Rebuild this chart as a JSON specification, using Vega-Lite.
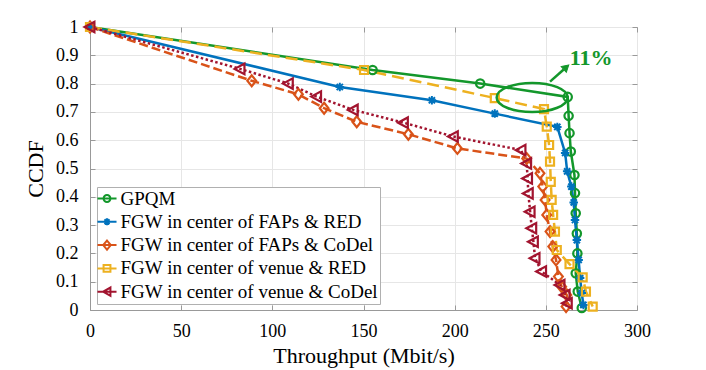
{
  "$schema": "https://vega.github.io/schema/vega-lite/v6.json",
  "width": 547,
  "height": 283,
  "autosize": "none",
  "padding": {"left": 90, "top": 27, "right": 69, "bottom": 60},
  "config": {
    "view": {"stroke": "#999999"},
    "font": "Liberation Serif, Times New Roman, serif",
    "axis": {"labelFont": "Liberation Serif, Times New Roman, serif", "titleFont": "Liberation Serif, Times New Roman, serif"},
    "legend": {"labelFont": "Liberation Serif, Times New Roman, serif"}
  },
  "datasets": {
    "main": [
      {"series": "GPQM", "i": 0, "x": 0, "y": 1},
      {"series": "GPQM", "i": 1, "x": 155, "y": 0.848},
      {"series": "GPQM", "i": 2, "x": 214, "y": 0.8},
      {"series": "GPQM", "i": 3, "x": 262, "y": 0.753},
      {"series": "GPQM", "i": 4, "x": 262.5, "y": 0.686},
      {"series": "GPQM", "i": 5, "x": 263, "y": 0.625},
      {"series": "GPQM", "i": 6, "x": 263.7, "y": 0.56},
      {"series": "GPQM", "i": 7, "x": 265.7, "y": 0.477},
      {"series": "GPQM", "i": 8, "x": 266, "y": 0.413},
      {"series": "GPQM", "i": 9, "x": 266.4, "y": 0.342},
      {"series": "GPQM", "i": 10, "x": 267, "y": 0.27},
      {"series": "GPQM", "i": 11, "x": 267.3, "y": 0.2},
      {"series": "GPQM", "i": 12, "x": 266.4, "y": 0.13},
      {"series": "GPQM", "i": 13, "x": 267.5, "y": 0.065},
      {"series": "GPQM", "i": 14, "x": 269.7, "y": 0.007},
      {"series": "FGW in center of FAPs & RED", "i": 0, "x": 0, "y": 1},
      {"series": "FGW in center of FAPs & RED", "i": 1, "x": 137, "y": 0.788},
      {"series": "FGW in center of FAPs & RED", "i": 2, "x": 187.5, "y": 0.741},
      {"series": "FGW in center of FAPs & RED", "i": 3, "x": 222, "y": 0.694},
      {"series": "FGW in center of FAPs & RED", "i": 4, "x": 256.3, "y": 0.647},
      {"series": "FGW in center of FAPs & RED", "i": 5, "x": 260.6, "y": 0.555},
      {"series": "FGW in center of FAPs & RED", "i": 6, "x": 261.7, "y": 0.49},
      {"series": "FGW in center of FAPs & RED", "i": 7, "x": 264, "y": 0.436},
      {"series": "FGW in center of FAPs & RED", "i": 8, "x": 265.3, "y": 0.38},
      {"series": "FGW in center of FAPs & RED", "i": 9, "x": 266, "y": 0.318},
      {"series": "FGW in center of FAPs & RED", "i": 10, "x": 267, "y": 0.247},
      {"series": "FGW in center of FAPs & RED", "i": 11, "x": 268, "y": 0.177},
      {"series": "FGW in center of FAPs & RED", "i": 12, "x": 268.8, "y": 0.113},
      {"series": "FGW in center of FAPs & RED", "i": 13, "x": 269.7, "y": 0.06},
      {"series": "FGW in center of FAPs & RED", "i": 14, "x": 270.6, "y": 0.018},
      {"series": "FGW in center of FAPs & CoDel", "i": 0, "x": 0, "y": 1},
      {"series": "FGW in center of FAPs & CoDel", "i": 1, "x": 88.7, "y": 0.81},
      {"series": "FGW in center of FAPs & CoDel", "i": 2, "x": 114.3, "y": 0.762},
      {"series": "FGW in center of FAPs & CoDel", "i": 3, "x": 128.4, "y": 0.713},
      {"series": "FGW in center of FAPs & CoDel", "i": 4, "x": 146.3, "y": 0.665},
      {"series": "FGW in center of FAPs & CoDel", "i": 5, "x": 174.6, "y": 0.621},
      {"series": "FGW in center of FAPs & CoDel", "i": 6, "x": 201.5, "y": 0.571},
      {"series": "FGW in center of FAPs & CoDel", "i": 7, "x": 239.5, "y": 0.535},
      {"series": "FGW in center of FAPs & CoDel", "i": 8, "x": 246.8, "y": 0.483},
      {"series": "FGW in center of FAPs & CoDel", "i": 9, "x": 248.3, "y": 0.436},
      {"series": "FGW in center of FAPs & CoDel", "i": 10, "x": 249.6, "y": 0.389},
      {"series": "FGW in center of FAPs & CoDel", "i": 11, "x": 250.5, "y": 0.336},
      {"series": "FGW in center of FAPs & CoDel", "i": 12, "x": 252.3, "y": 0.277},
      {"series": "FGW in center of FAPs & CoDel", "i": 13, "x": 253.8, "y": 0.224},
      {"series": "FGW in center of FAPs & CoDel", "i": 14, "x": 255.6, "y": 0.177},
      {"series": "FGW in center of FAPs & CoDel", "i": 15, "x": 256.9, "y": 0.118},
      {"series": "FGW in center of FAPs & CoDel", "i": 16, "x": 258.7, "y": 0.082},
      {"series": "FGW in center of FAPs & CoDel", "i": 17, "x": 261.5, "y": 0.053},
      {"series": "FGW in center of FAPs & CoDel", "i": 18, "x": 261.1, "y": 0.012},
      {"series": "FGW in center of venue & RED", "i": 0, "x": 0, "y": 1},
      {"series": "FGW in center of venue & RED", "i": 1, "x": 150.3, "y": 0.848},
      {"series": "FGW in center of venue & RED", "i": 2, "x": 222, "y": 0.749},
      {"series": "FGW in center of venue & RED", "i": 3, "x": 249, "y": 0.71},
      {"series": "FGW in center of venue & RED", "i": 4, "x": 250.5, "y": 0.648},
      {"series": "FGW in center of venue & RED", "i": 5, "x": 251.8, "y": 0.583},
      {"series": "FGW in center of venue & RED", "i": 6, "x": 252.3, "y": 0.524},
      {"series": "FGW in center of venue & RED", "i": 7, "x": 252.7, "y": 0.453},
      {"series": "FGW in center of venue & RED", "i": 8, "x": 253.2, "y": 0.389},
      {"series": "FGW in center of venue & RED", "i": 9, "x": 254, "y": 0.336},
      {"series": "FGW in center of venue & RED", "i": 10, "x": 255, "y": 0.277},
      {"series": "FGW in center of venue & RED", "i": 11, "x": 256, "y": 0.212},
      {"series": "FGW in center of venue & RED", "i": 12, "x": 263, "y": 0.162},
      {"series": "FGW in center of venue & RED", "i": 13, "x": 270.2, "y": 0.115},
      {"series": "FGW in center of venue & RED", "i": 14, "x": 272, "y": 0.065},
      {"series": "FGW in center of venue & RED", "i": 15, "x": 275.7, "y": 0.012},
      {"series": "FGW in center of venue & CoDel", "i": 0, "x": 0, "y": 1},
      {"series": "FGW in center of venue & CoDel", "i": 1, "x": 82.3, "y": 0.852},
      {"series": "FGW in center of venue & CoDel", "i": 2, "x": 108.8, "y": 0.8},
      {"series": "FGW in center of venue & CoDel", "i": 3, "x": 124.3, "y": 0.754},
      {"series": "FGW in center of venue & CoDel", "i": 4, "x": 144.4, "y": 0.707},
      {"series": "FGW in center of venue & CoDel", "i": 5, "x": 171.9, "y": 0.662},
      {"series": "FGW in center of venue & CoDel", "i": 6, "x": 199.3, "y": 0.613},
      {"series": "FGW in center of venue & CoDel", "i": 7, "x": 236.4, "y": 0.565},
      {"series": "FGW in center of venue & CoDel", "i": 8, "x": 239.5, "y": 0.518},
      {"series": "FGW in center of venue & CoDel", "i": 9, "x": 240, "y": 0.465},
      {"series": "FGW in center of venue & CoDel", "i": 10, "x": 240.4, "y": 0.412},
      {"series": "FGW in center of venue & CoDel", "i": 11, "x": 241.4, "y": 0.347},
      {"series": "FGW in center of venue & CoDel", "i": 12, "x": 242.3, "y": 0.289},
      {"series": "FGW in center of venue & CoDel", "i": 13, "x": 243.2, "y": 0.241},
      {"series": "FGW in center of venue & CoDel", "i": 14, "x": 244.1, "y": 0.183},
      {"series": "FGW in center of venue & CoDel", "i": 15, "x": 247.7, "y": 0.136},
      {"series": "FGW in center of venue & CoDel", "i": 16, "x": 257.8, "y": 0.088},
      {"series": "FGW in center of venue & CoDel", "i": 17, "x": 260.6, "y": 0.053},
      {"series": "FGW in center of venue & CoDel", "i": 18, "x": 261.8, "y": 0.024}
    ]
  },
  "resolve": {"axis": {"x": "independent", "y": "independent"}},
  "layer": [
    {
      "data": {"name": "main"},
      "transform": [{"filter": "datum.series === 'GPQM' || datum.series === 'FGW in center of FAPs & RED'"}],
      "mark": {"type": "line", "strokeWidth": 2.5},
      "encoding": {
        "x": {
          "field": "x", "type": "quantitative",
          "scale": {"domain": [0, 300], "nice": false, "zero": false},
          "axis": {
            "orient": "bottom",
            "values": [0, 50, 100, 150, 200, 250, 300],
            "grid": true, "gridColor": "#e6e6e6",
            "domainColor": "#999999", "tickColor": "#999999", "tickSize": -5,
            "labelPadding": 17, "labelFontSize": 18, "labelColor": "#000000",
            "labelFlush": false,
            "title": "Throughput (Mbit/s)", "titleFontSize": 22,
            "titleFontWeight": "normal", "titleColor": "#000000", "titlePadding": 5
          }
        },
        "y": {
          "field": "y", "type": "quantitative",
          "scale": {"domain": [0, 1], "nice": false},
          "axis": {
            "orient": "left",
            "values": [0, 0.1, 0.2, 0.3, 0.4, 0.5, 0.6, 0.7, 0.8, 0.9, 1],
            "format": "~g",
            "grid": true, "gridColor": "#e6e6e6",
            "domainColor": "#999999", "tickColor": "#999999", "tickSize": -5,
            "labelPadding": 17, "labelFontSize": 18, "labelColor": "#000000",
            "labelFlush": false,
            "title": "CCDF", "titleFontSize": 22,
            "titleFontWeight": "normal", "titleColor": "#000000", "titlePadding": 8
          }
        },
        "color": {
          "field": "series", "type": "nominal", "title": null,
          "scale": {
            "domain": ["GPQM", "FGW in center of FAPs & RED", "FGW in center of FAPs & CoDel", "FGW in center of venue & RED", "FGW in center of venue & CoDel"],
            "range": ["#13972b", "#0072bd", "#d95319", "#edb120", "#a2142f"]
          },
          "legend": {
            "orient": "none", "legendX": 7, "legendY": 160,
            "title": null,
            "fillColor": "#ffffff", "strokeColor": "#b0b0b0", "padding": 2,
            "labelFontSize": 19, "labelColor": "#000000", "labelLimit": 0,
            "symbolSize": 64, "symbolStrokeWidth": 2, "symbolOffset": -1.5, "labelOffset": 4, "rowPadding": 3.3,
            "symbolFillColor": "transparent",
            "encode": {
              "symbols": {
                "update": {
                  "shape": {"signal": "datum.value === 'GPQM' ? 'M-2.5,0L2.5,0M0.9,0A0.9,0.9 0 1,1 -0.9,0A0.9,0.9 0 1,1 0.9,0' : datum.value === 'FGW in center of FAPs & RED' ? 'M-2.5,0L2.5,0M0,-0.9L0,0.9M-0.65,-0.65L0.65,0.65M-0.65,0.65L0.65,-0.65' : datum.value === 'FGW in center of FAPs & CoDel' ? 'M-2.5,0L2.5,0M0,-1.2L1,0L0,1.2L-1,0Z' : datum.value === 'FGW in center of venue & RED' ? 'M-2.5,0L2.5,0M-0.9,-0.9L0.9,-0.9L0.9,0.9L-0.9,0.9Z' : 'M-2.5,0L2.5,0M-1,0L0.9,-1.1L0.9,1.1Z'"},
                  "fill": {"value": "transparent"},
                  "size": {"value": 58}
                }
              }
            }
          }
        },
        "order": {"field": "i", "type": "quantitative"}
      }
    },
    {
      "data": {"name": "main"},
      "transform": [{"filter": "datum.series === 'FGW in center of FAPs & CoDel'"}],
      "mark": {"type": "line", "strokeWidth": 2.5, "stroke": "#d95319", "strokeDash": [9, 4]},
      "encoding": {
        "x": {"field": "x", "type": "quantitative", "axis": null},
        "y": {"field": "y", "type": "quantitative", "axis": null},
        "order": {"field": "i", "type": "quantitative"}
      }
    },
    {
      "data": {"name": "main"},
      "transform": [{"filter": "datum.series === 'FGW in center of venue & RED'"}],
      "mark": {"type": "line", "strokeWidth": 2.5, "stroke": "#edb120", "strokeDash": [12, 6]},
      "encoding": {
        "x": {"field": "x", "type": "quantitative", "axis": null},
        "y": {"field": "y", "type": "quantitative", "axis": null},
        "order": {"field": "i", "type": "quantitative"}
      }
    },
    {
      "data": {"name": "main"},
      "transform": [{"filter": "datum.series === 'FGW in center of venue & CoDel'"}],
      "mark": {"type": "line", "strokeWidth": 2.5, "stroke": "#a2142f", "strokeDash": [2.5, 2.5]},
      "encoding": {
        "x": {"field": "x", "type": "quantitative", "axis": null},
        "y": {"field": "y", "type": "quantitative", "axis": null},
        "order": {"field": "i", "type": "quantitative"}
      }
    },
    {
      "data": {"name": "main"},
      "transform": [{"filter": "datum.series === 'GPQM'"}],
      "mark": {"type": "point", "shape": "circle", "filled": false, "stroke": "#13972b", "strokeWidth": 2.2, "size": 70, "opacity": 1},
      "encoding": {
        "x": {"field": "x", "type": "quantitative", "axis": null},
        "y": {"field": "y", "type": "quantitative", "axis": null}
      }
    },
    {
      "data": {"name": "main"},
      "transform": [{"filter": "datum.series === 'FGW in center of FAPs & RED'"}],
      "mark": {"type": "point", "shape": "M0,-1.1L0,1.1M-1.1,0L1.1,0M-0.8,-0.8L0.8,0.8M-0.8,0.8L0.8,-0.8", "filled": false, "stroke": "#0072bd", "strokeWidth": 2, "size": 60, "opacity": 1},
      "encoding": {
        "x": {"field": "x", "type": "quantitative", "axis": null},
        "y": {"field": "y", "type": "quantitative", "axis": null}
      }
    },
    {
      "data": {"name": "main"},
      "transform": [{"filter": "datum.series === 'FGW in center of FAPs & CoDel'"}],
      "mark": {"type": "point", "shape": "M0,-1.3L1.05,0L0,1.3L-1.05,0Z", "filled": false, "stroke": "#d95319", "strokeWidth": 2.2, "size": 70, "opacity": 1},
      "encoding": {
        "x": {"field": "x", "type": "quantitative", "axis": null},
        "y": {"field": "y", "type": "quantitative", "axis": null}
      }
    },
    {
      "data": {"name": "main"},
      "transform": [{"filter": "datum.series === 'FGW in center of venue & RED'"}],
      "mark": {"type": "point", "shape": "square", "filled": false, "stroke": "#edb120", "strokeWidth": 2.2, "size": 64, "opacity": 1},
      "encoding": {
        "x": {"field": "x", "type": "quantitative", "axis": null},
        "y": {"field": "y", "type": "quantitative", "axis": null}
      }
    },
    {
      "data": {"name": "main"},
      "transform": [{"filter": "datum.series === 'FGW in center of venue & CoDel'"}],
      "mark": {"type": "point", "shape": "M-1.3,0L1.05,-1.25L1.05,1.25Z", "filled": false, "stroke": "#a2142f", "strokeWidth": 2.2, "size": 70, "opacity": 1},
      "encoding": {
        "x": {"field": "x", "type": "quantitative", "axis": null},
        "y": {"field": "y", "type": "quantitative", "axis": null}
      }
    },
    {
      "data": {"values": [{"x": 242.5, "y": 0.751}]},
      "mark": {"type": "point", "shape": "M-1,0A1,0.41 0 1,0 1,0A1,0.41 0 1,0 -1,0", "size": 5041, "filled": false, "stroke": "#13972b", "strokeWidth": 2.5, "opacity": 1},
      "encoding": {
        "x": {"field": "x", "type": "quantitative", "axis": {"orient": "top", "labels": false, "title": null, "grid": false, "domain": false, "tickColor": "#999999", "tickSize": -5, "values": [0, 50, 100, 150, 200, 250, 300]}},
        "y": {"field": "y", "type": "quantitative", "axis": {"orient": "right", "labels": false, "title": null, "grid": false, "domain": false, "tickColor": "#999999", "tickSize": -5, "values": [0, 0.1, 0.2, 0.3, 0.4, 0.5, 0.6, 0.7, 0.8, 0.9, 1]}}
      }
    },
    {
      "data": {"values": [{"x": 252.3, "y": 0.807, "x2": 259.8, "y2": 0.85}]},
      "mark": {"type": "rule", "stroke": "#13972b", "strokeWidth": 2.5},
      "encoding": {
        "x": {"field": "x", "type": "quantitative", "axis": null},
        "y": {"field": "y", "type": "quantitative", "axis": null},
        "x2": {"field": "x2"},
        "y2": {"field": "y2"}
      }
    },
    {
      "data": {"values": [{"x": 261.2, "y": 0.858}]},
      "mark": {"type": "point", "shape": "triangle-up", "angle": 48, "size": 60, "filled": true, "fill": "#13972b", "stroke": "#13972b", "strokeWidth": 1, "opacity": 1},
      "encoding": {
        "x": {"field": "x", "type": "quantitative", "axis": null},
        "y": {"field": "y", "type": "quantitative", "axis": null}
      }
    },
    {
      "data": {"values": [{"x": 274.8, "y": 0.889, "label": "11%"}]},
      "mark": {"type": "text", "fontSize": 22, "fontWeight": "bold", "fill": "#13972b", "align": "center", "baseline": "middle"},
      "encoding": {
        "x": {"field": "x", "type": "quantitative", "axis": null},
        "y": {"field": "y", "type": "quantitative", "axis": null},
        "text": {"field": "label"}
      }
    }
  ]
}
